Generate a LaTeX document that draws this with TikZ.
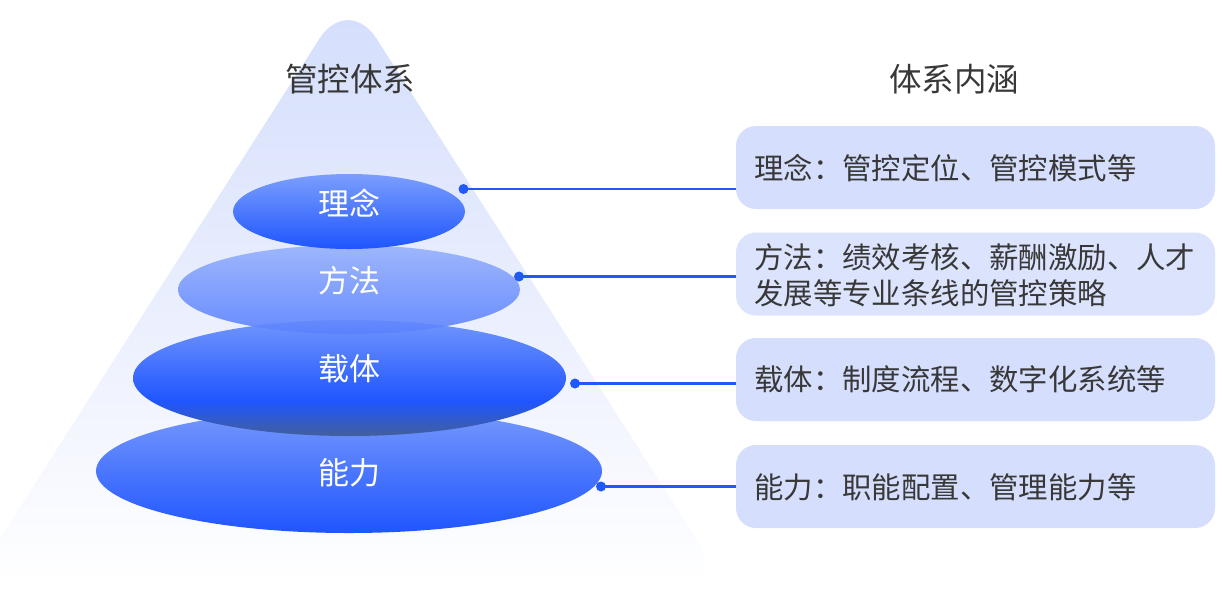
\documentclass[tikz,border=0pt]{standalone}
\usepackage{fontspec}
\setmainfont{Noto Sans CJK SC}
\usetikzlibrary{shapes.geometric}
\definecolor{txtgray}{RGB}{56,56,56}
\definecolor{linecol}{RGB}{33,88,250}
\definecolor{boxfill}{RGB}{213,222,252}
\definecolor{boxfillb}{RGB}{219,227,253}
\definecolor{tritop}{RGB}{211,221,252}
\definecolor{trimid}{RGB}{229,235,253}
\definecolor{zt}{RGB}{113,150,253}
\definecolor{zm}{RGB}{31,85,254}
\definecolor{zb}{RGB}{66,95,156}
\pgfdeclareverticalshading{zaiti}{100bp}{color(0bp)=(zb); color(25bp)=(zb); color(40bp)=(zm); color(75bp)=(zt); color(100bp)=(zt)}
\begin{document}
\begin{tikzpicture}[x=1pt,y=1pt,
  lvl/.style={ellipse, draw=none, inner sep=0pt},
  lvltxt/.style={text=white, font=\fontsize{31}{31}\selectfont, inner sep=0pt},
  title/.style={text=txtgray, font=\fontsize{32.5}{32.5}\selectfont, inner sep=0pt},
  descbox/.style={rectangle, rounded corners=20pt, minimum width=479pt, minimum height=83pt, inner sep=0pt, draw=none},
  desctxt/.style={text=txtgray, font=\fontsize{29.4}{36}\selectfont, inner sep=0pt, align=left, anchor=west},
  dotn/.style={circle, fill=linecol, minimum size=10pt, inner sep=0pt},
  conn/.style={draw=linecol, line width=2.5pt}
]
\useasboundingbox (0,0) rectangle (1223,-606);
% pyramid
\path[top color=tritop, middle color=trimid, bottom color=white, rounded corners=53pt]
  (348,6) -- (726,-585) -- (-30,-585) -- cycle;
% titles
\node[title] (t1) at (350,-79) {管控体系};
\node[title] (t2) at (954,-79) {体系内涵};
% levels (bottom first)
\node[lvl, minimum width=506pt, minimum height=124pt, top color={rgb,255:red,119;green,153;blue,253}, bottom color={rgb,255:red,31;green,85;blue,254}] (e4) at (349,-471) {};
\node[lvl, minimum width=433pt, minimum height=116pt, shading=zaiti] (e3) at (349.5,-378) {};
\node[lvl, minimum width=342pt, minimum height=89pt, fill opacity=0.9, top color={rgb,255:red,150;green,177;blue,252}, bottom color={rgb,255:red,90;green,129;blue,253}] (e2) at (349,-289.5) {};
\node[lvl, minimum width=232pt, minimum height=75pt, top color={rgb,255:red,123;green,158;blue,253}, bottom color={rgb,255:red,30;green,85;blue,254}] (e1) at (349,-211.5) {};
\node[lvltxt] (l1) at (349,-203) {理念};
\node[lvltxt] (l2) at (349,-281) {方法};
\node[lvltxt] (l3) at (349,-369) {载体};
\node[lvltxt] (l4) at (349,-473) {能力};
% description boxes
\node[descbox, fill=boxfill] (b1) at (975.5,-167.5) {};
\node[descbox, fill=boxfillb] (b2) at (975.5,-274) {};
\node[descbox, fill=boxfill] (b3) at (975.5,-379.5) {};
\node[descbox, fill=boxfill] (b4) at (975.5,-486.5) {};
\node[desctxt] (s1) at (754,-168) {理念：管控定位、管控模式等};
\node[desctxt] (s2) at (754,-275) {方法：绩效考核、薪酬激励、人才\\发展等专业条线的管控策略};
\node[desctxt] (s3) at (754,-379) {载体：制度流程、数字化系统等};
\node[desctxt] (s4) at (754,-487) {能力：职能配置、管理能力等};
% connectors
\node[dotn] (d1) at (463.5,-189) {};
\node[dotn] (d2) at (519,-276.5) {};
\node[dotn] (d3) at (575,-383.5) {};
\node[dotn] (d4) at (601,-486.5) {};
\draw[conn] (d1.center) -- (d1.center -| b1.west);
\draw[conn] (d2.center) -- (d2.center -| b2.west);
\draw[conn] (d3.center) -- (d3.center -| b3.west);
\draw[conn] (d4.center) -- (d4.center -| b4.west);
\end{tikzpicture}
\end{document}
